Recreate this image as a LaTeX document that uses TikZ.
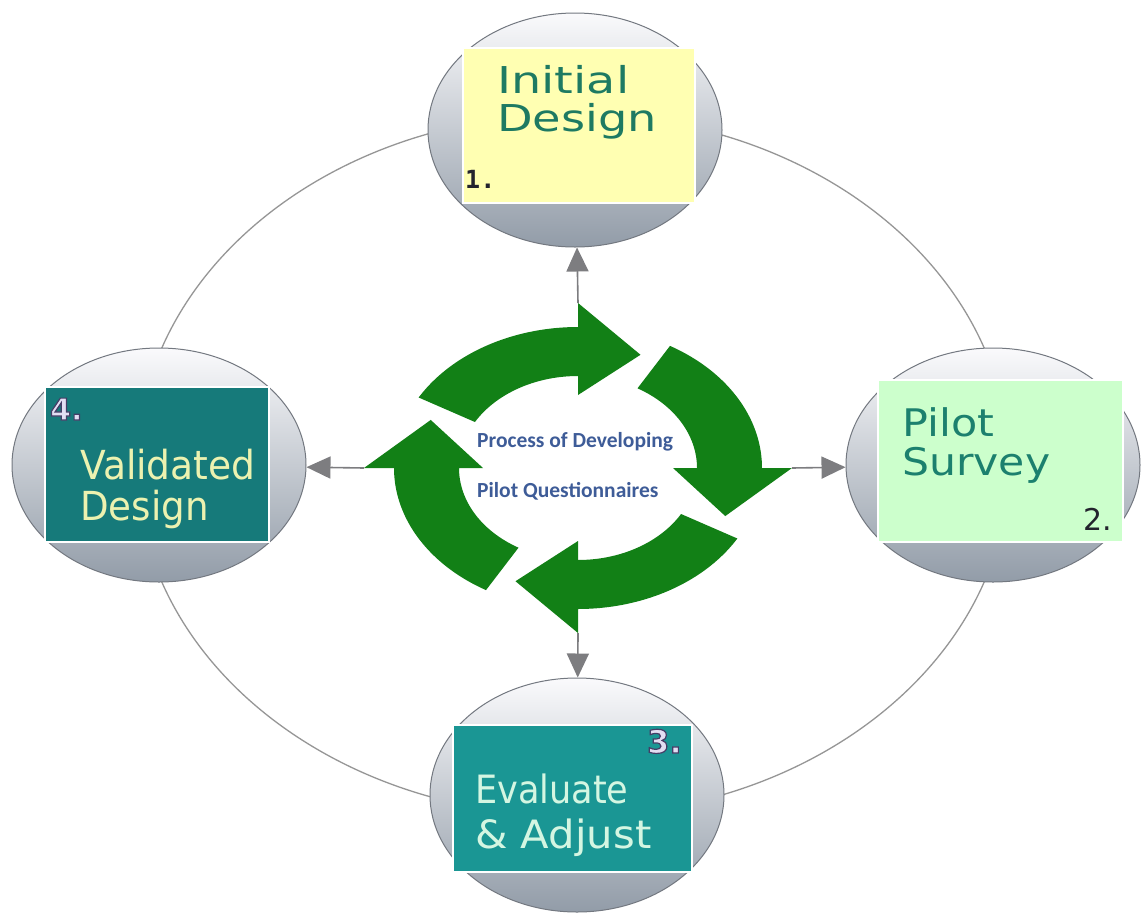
\documentclass[tikz,border=0pt]{standalone}
\usepackage{fontspec}
\usepackage{graphicx}
\setmainfont{DejaVu Sans}
\newfontfamily\calibfont{Carlito}
\newfontfamily\numfont{DejaVu Sans Mono}
\usetikzlibrary{shapes.geometric,arrows.meta}
\definecolor{cyclegreen}{RGB}{18,128,22}
\definecolor{ringgray}{RGB}{150,150,150}
\definecolor{arrowgray}{RGB}{125,125,128}
\definecolor{bubtop}{RGB}{250,250,252}
\definecolor{bubmid}{RGB}{218,222,228}
\definecolor{bubbot}{RGB}{146,156,168}
\definecolor{bubedge}{RGB}{115,120,128}
\definecolor{yellowbox}{RGB}{255,255,178}
\definecolor{greenbox}{RGB}{204,255,204}
\definecolor{tealdark}{RGB}{22,122,122}
\definecolor{teallight}{RGB}{26,150,148}
\definecolor{textteal}{RGB}{30,122,98}
\definecolor{textteal2}{RGB}{28,128,110}
\definecolor{paleyellow}{RGB}{236,242,176}
\definecolor{palemint}{RGB}{212,246,226}
\definecolor{centerblue}{RGB}{62,92,152}
\definecolor{numdark}{RGB}{35,35,45}
\definecolor{outlight}{RGB}{226,222,242}
\newcommand\hs[2]{\scalebox{#1}[1]{#2}}
\newcommand\twolines[3]{\vtop{\baselineskip=#1\lineskiplimit=-100pt\lineskip=0pt\hbox{#2}\hbox{#3}}}
% outlined text: light fill, dark stroke (text render mode 2)
\newcommand\outltxt[1]{\textcolor{outlight}{\special{pdf:literal direct 2 Tr 1.2 w 0.27 0.24 0.4 RG}#1\special{pdf:literal direct 0 Tr}}}
\newcommand\cyclearrow[1]{%
 \pgfmathsetmacro\ea{#1+60}%
 \pgfmathsetmacro\ta{#1+83}%
 \fill[cyclegreen] plot[domain=#1:\ea,samples=40] ({578+184*cos(\x)},{468+141*sin(\x)})
   -- ({578+214*cos(\ea)},{468+165*sin(\ea)})
   -- ({578+160*cos(\ta)},{468+123*sin(\ta)})
   -- ({578+95*cos(\ea)},{468+73*sin(\ea)})
   -- plot[domain=\ea:#1,samples=40] ({578+119*cos(\x)},{468+92*sin(\x)})
   -- cycle;}
\begin{document}
\begin{tikzpicture}[x=1pt,y=-1pt,
  bubble/.style={ellipse, minimum width=294pt, minimum height=234pt, inner sep=0pt,
    draw=bubedge, line width=1pt, top color=bubtop, middle color=bubmid, bottom color=bubbot},
  box/.style={rectangle, draw=white, line width=2.5pt, inner sep=0pt},
  lbl/.style={anchor=base west, inner sep=0pt},
  ringline/.style={draw=ringgray, line width=1.3pt},
  garrow/.style={draw=arrowgray, line width=1.6pt, -{Triangle[length=24pt,width=22pt]}}]
\useasboundingbox (0,0) rectangle (1144,919);
\fill[white] (0,0) rectangle (1144,919);
% connecting ring
\draw[ringline] (573,465) ellipse [x radius=436pt, y radius=351pt];
% bubbles
\node[bubble] (b1) at (575,130) {};
\node[bubble] (b2) at (993,465) {};
\node[bubble] (b3) at (577,795) {};
\node[bubble] (b4) at (159,465) {};
% boxes
\node[box, fill=yellowbox, minimum width=232pt, minimum height=155pt] (r1) at (579,125.5) {};
\node[box, fill=greenbox, minimum width=245pt, minimum height=162pt] (r2) at (1000.5,461) {};
\node[box, fill=teallight, minimum width=239pt, minimum height=147pt] (r3) at (572.5,798.5) {};
\node[box, fill=tealdark, minimum width=224pt, minimum height=155pt] (r4) at (157,464.5) {};
% box texts
\node[lbl, text=textteal, font=\fontsize{37}{37}\selectfont] (t1) at (497,93)
  {\twolines{38pt}{\hs{1.29}{Initial}}{\hs{1.25}{Design}}};
\node[lbl, text=numdark, font=\numfont\bfseries\fontsize{25}{25}\selectfont] (n1) at (465,188) {1.};
\node[lbl, text=textteal2, font=\fontsize{38}{38}\selectfont] (t2) at (902,436)
  {\twolines{39pt}{\hs{1.13}{Pilot}}{\hs{1.12}{Survey}}};
\node[lbl, text=numdark, font=\fontsize{30}{30}\selectfont] (n2) at (1083,530) {2.};
\node[lbl, text=palemint, font=\fontsize{39}{39}\selectfont] (t3) at (475,803)
  {\twolines{45pt}{\hs{0.90}{Evaluate}}{\hs{1.07}{\& Adjust}}};
\node[lbl, font=\bfseries\fontsize{32}{32}\selectfont] (n3) at (647,753) {\outltxt{3.}};
\node[lbl, text=paleyellow, font=\fontsize{40}{40}\selectfont] (t4) at (80,479)
  {\twolines{41pt}{\hs{0.94}{Validated}}{\hs{0.93}{Design}}};
\node[lbl, font=\bfseries\fontsize{30}{30}\selectfont] (n4) at (50,420) {\outltxt{4.}};
% central cycle
\cyclearrow{210}
\cyclearrow{300}
\cyclearrow{30}
\cyclearrow{120}
\node[lbl, text=centerblue, font=\calibfont\bfseries\fontsize{21.5}{21.5}\selectfont] (c1) at (477,447) {Process of Developing};
\node[lbl, text=centerblue, font=\calibfont\bfseries\fontsize{21.5}{21.5}\selectfont] (c2) at (477,497) {Pilot Questionnaires};
% connectors from cycle to stages
\coordinate (cT) at (578,303);
\coordinate (cR) at (792,468);
\coordinate (cB) at (578,633);
\coordinate (cL) at (364,468);
\draw[garrow] (cT) -- (b1);
\draw[garrow] (cR) -- (b2);
\draw[garrow] (cB) -- (b3);
\draw[garrow] (cL) -- (b4);
\end{tikzpicture}
\end{document}
